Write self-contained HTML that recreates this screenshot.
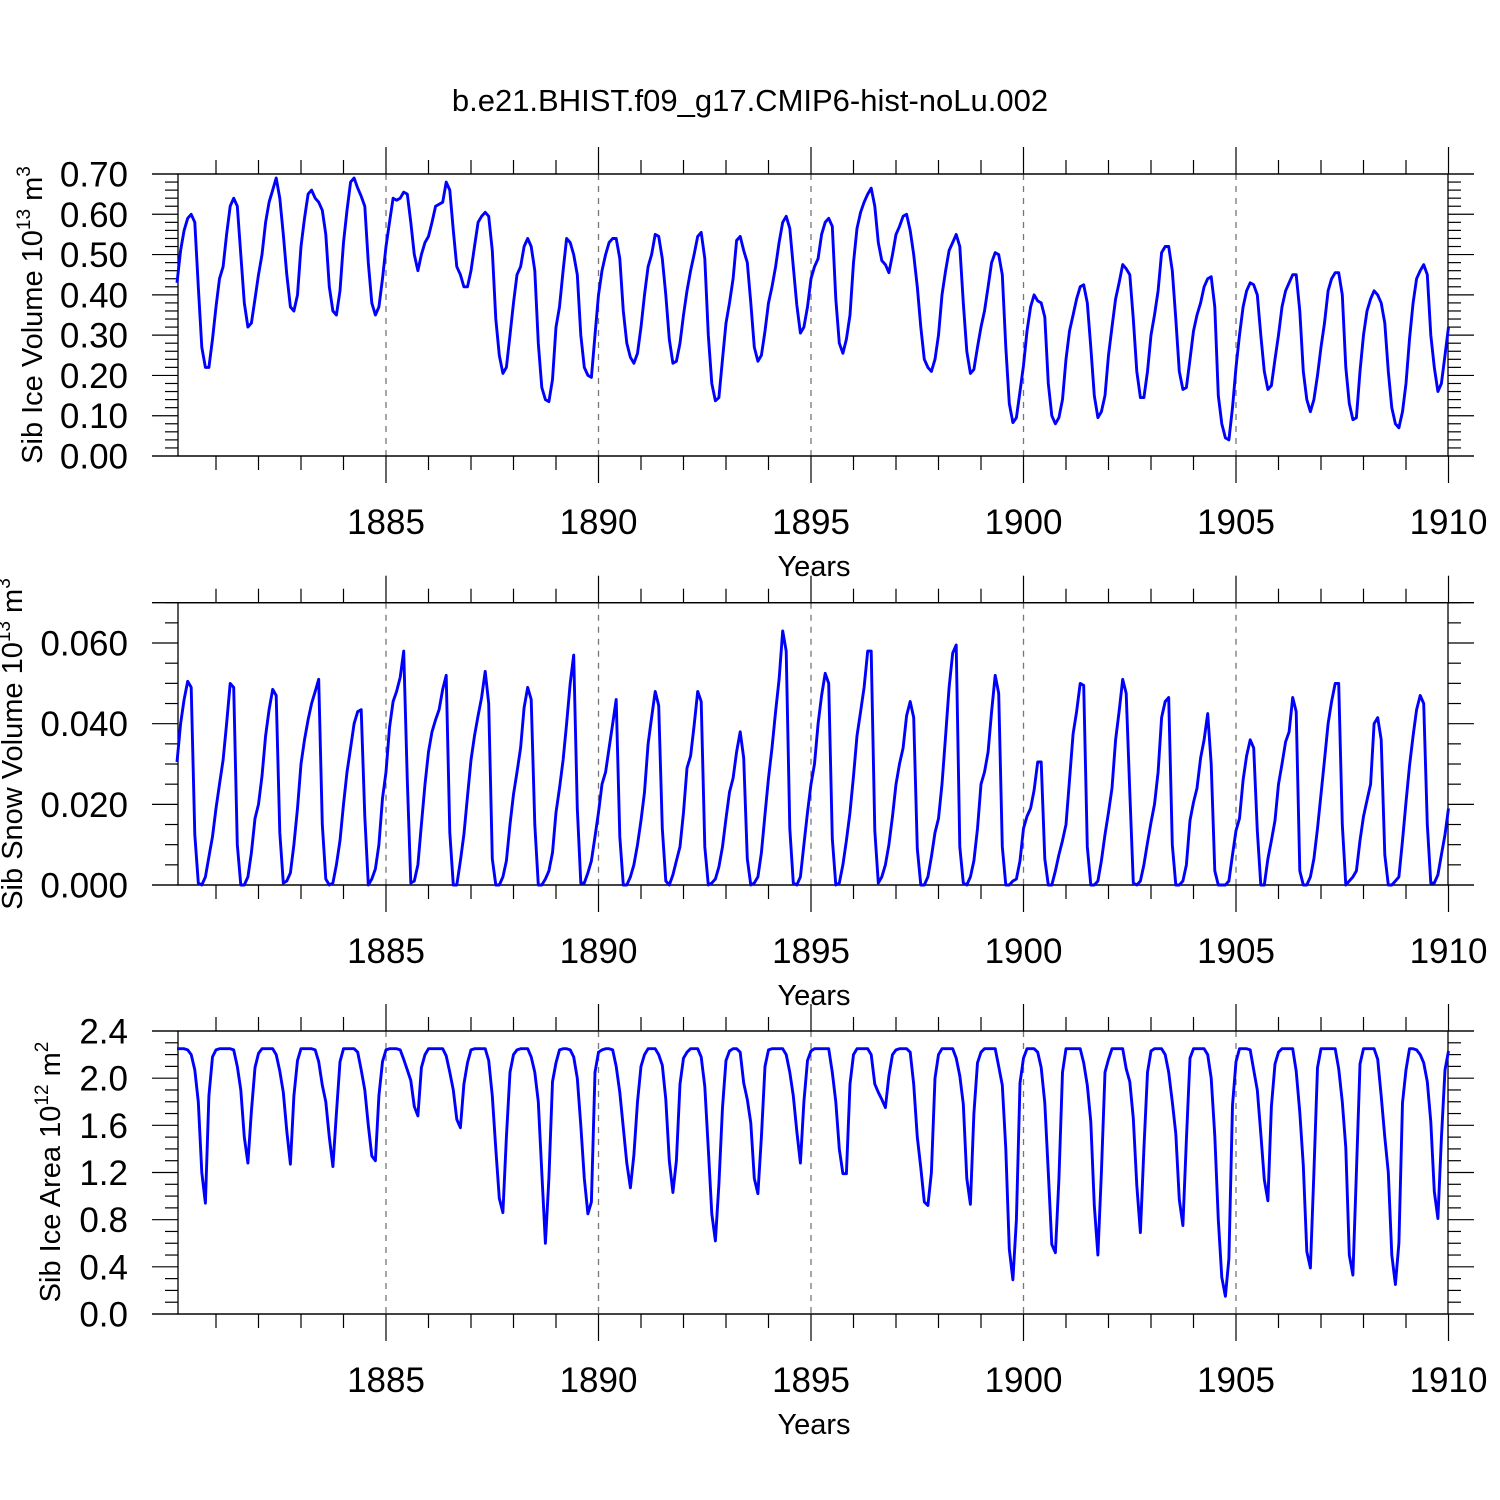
<!DOCTYPE html>
<html><head><meta charset="utf-8"><style>
html,body{margin:0;padding:0;background:#fff;}
svg{display:block;font-family:"Liberation Sans",Arial,sans-serif;}
</style></head><body>
<svg id="chart" width="1500" height="1500" viewBox="0 0 1500 1500" xmlns="http://www.w3.org/2000/svg">
<rect width="1500" height="1500" fill="#fff"/>
<text x="750" y="111" font-size="31" text-anchor="middle">b.e21.BHIST.f09_g17.CMIP6-hist-noLu.002</text>
<g id="g1"></g>
<g id="g2"></g>
<g id="g3"></g>
</svg>
<script>
const startYear = 1880;
const xTickYears = [1885, 1890, 1895, 1900, 1905, 1910];
const iceVolTicks = ["0.00","0.10","0.20","0.30","0.40","0.50","0.60","0.70"];
const snowVolTicks = ["0.000","0.020","0.040","0.060"];
const iceAreaTicks = ["0.0","0.4","0.8","1.2","1.6","2.0","2.4"];

const iceVolume = [
.43,.51,.56,.59,.60,.58,.42,.27,.22,.22,.29,.37,
.44,.47,.55,.62,.64,.62,.50,.38,.32,.33,.39,.45,
.50,.58,.63,.66,.69,.64,.55,.45,.37,.36,.40,.52,
.59,.65,.66,.64,.63,.61,.55,.42,.36,.35,.41,.53,
.61,.68,.69,.665,.645,.62,.48,.38,.35,.37,.44,.52,
.58,.64,.635,.64,.655,.65,.58,.50,.46,.50,.53,.545,
.58,.62,.625,.63,.68,.66,.56,.47,.45,.42,.42,.46,
.52,.58,.595,.605,.595,.51,.34,.25,.205,.22,.30,.38,
.45,.47,.52,.54,.52,.46,.28,.17,.14,.135,.19,.32,
.37,.46,.54,.53,.50,.45,.30,.22,.20,.195,.30,.40,
.46,.50,.53,.54,.54,.49,.36,.28,.245,.23,.255,.32,
.40,.47,.50,.55,.545,.49,.40,.29,.23,.235,.28,.35,
.41,.46,.50,.545,.555,.49,.30,.18,.137,.145,.24,.33,
.38,.44,.535,.545,.51,.48,.38,.27,.235,.25,.31,.38,
.42,.47,.53,.58,.595,.565,.47,.375,.305,.32,.37,.44,
.47,.49,.55,.58,.59,.57,.39,.28,.255,.29,.35,.48,
.565,.605,.63,.65,.665,.62,.53,.485,.475,.455,.50,.55,
.57,.595,.60,.56,.50,.42,.32,.24,.22,.21,.24,.30,
.40,.46,.51,.53,.55,.52,.38,.26,.205,.215,.27,.32,
.36,.42,.48,.505,.50,.45,.27,.13,.083,.095,.16,.225,
.31,.37,.40,.385,.38,.345,.18,.10,.08,.095,.14,.24,
.31,.35,.39,.42,.425,.38,.27,.15,.095,.11,.15,.25,
.32,.39,.43,.475,.465,.45,.34,.21,.145,.145,.21,.30,
.35,.41,.505,.52,.52,.46,.34,.21,.165,.17,.24,.31,
.35,.38,.42,.44,.445,.37,.15,.08,.045,.04,.12,.22,
.30,.37,.41,.43,.425,.40,.30,.21,.165,.175,.24,.30,
.37,.41,.43,.45,.45,.36,.21,.14,.11,.14,.20,.27,
.33,.41,.44,.455,.455,.40,.22,.13,.09,.095,.21,.30,
.36,.39,.41,.40,.38,.33,.21,.12,.08,.07,.11,.18,
.29,.38,.44,.46,.475,.45,.30,.22,.16,.18,.25,.32
];

const snowVolume = [
.0305,.040,.046,.0505,.049,.0125,.0005,0,.002,.007,.012,.019,
.025,.031,.040,.050,.049,.010,0,0,.002,.008,.0165,.020,
.027,.037,.0435,.0485,.047,.013,.0005,.001,.003,.010,.019,.030,
.036,.041,.045,.048,.051,.015,.0015,0,.0005,.005,.011,.020,
.028,.034,.040,.043,.0435,.017,0,.0015,.004,.010,.0215,.028,
.039,.0455,.048,.0515,.058,.026,.0005,.001,.005,.015,.025,.033,
.038,.041,.0435,.0485,.052,.013,0,0,.006,.0125,.022,.031,
.037,.042,.0465,.053,.045,.0065,0,0,.002,.006,.015,.0225,
.028,.034,.044,.049,.046,.015,0,0,.0015,.0035,.008,.018,
.024,.031,.040,.050,.057,.019,.0005,.0005,.003,.006,.012,.018,
.025,.028,.034,.040,.046,.012,0,0,.002,.005,.010,.016,
.023,.035,.0415,.048,.0445,.014,.001,0,.0025,.006,.0095,.018,
.029,.032,.0395,.048,.0455,.0095,0,.0005,.0015,.0045,.0095,.0165,
.023,.0265,.033,.038,.0315,.0065,0,.0005,.002,.008,.0175,.0265,
.034,.043,.051,.063,.058,.014,.0005,0,.002,.010,.018,.025,
.030,.040,.047,.0525,.050,.0115,0,.0005,.005,.011,.018,.027,
.037,.043,.049,.058,.058,.0135,.0005,.002,.005,.010,.017,.025,
.030,.034,.042,.0455,.0415,.009,0,0,.002,.007,.013,.0165,
.025,.037,.049,.0575,.0595,.0095,.0005,0,.002,.006,.014,.025,
.028,.033,.043,.052,.0475,.0095,0,0,.001,.0015,.006,.014,
.017,.019,.0235,.0305,.0305,.0065,0,0,.0035,.0075,.011,.015,
.026,.0375,.043,.050,.0495,.0095,0,0,.001,.006,.0125,.018,
.024,.036,.043,.051,.0475,.023,.0005,0,.001,.005,.0105,.0155,
.020,.028,.0415,.0455,.0465,.010,0,0,.001,.005,.016,.0205,
.024,.0315,.036,.0425,.030,.0035,0,0,0,.001,.0075,.0135,
.0165,.026,.032,.036,.034,.0135,0,0,.0065,.011,.016,.025,
.030,.0355,.038,.0465,.043,.0035,0,0,.002,.0065,.014,.0225,
.031,.040,.0455,.050,.050,.015,0,.001,.002,.0035,.011,.017,
.021,.025,.040,.0415,.036,.0075,0,0,.001,.002,.011,.0205,
.0295,.037,.0435,.047,.045,.015,.0005,.0005,.0025,.0075,.0125,.019
];

const iceArea = [
2.25,2.25,2.25,2.24,2.20,2.07,1.80,1.20,0.94,1.85,2.18,2.24,
2.25,2.25,2.25,2.25,2.24,2.10,1.90,1.50,1.28,1.72,2.09,2.21,
2.25,2.25,2.25,2.25,2.20,2.06,1.88,1.55,1.27,1.85,2.15,2.25,
2.25,2.25,2.25,2.24,2.14,1.94,1.80,1.50,1.25,1.70,2.14,2.25,
2.25,2.25,2.25,2.22,2.07,1.90,1.60,1.34,1.30,1.85,2.14,2.24,
2.25,2.25,2.25,2.24,2.16,2.07,1.98,1.76,1.68,2.09,2.20,2.25,
2.25,2.25,2.25,2.25,2.19,2.05,1.90,1.65,1.58,1.95,2.13,2.24,
2.25,2.25,2.25,2.25,2.15,1.85,1.40,0.98,0.86,1.50,2.05,2.20,
2.24,2.25,2.25,2.25,2.18,2.05,1.80,1.20,0.60,1.15,1.97,2.13,
2.24,2.25,2.25,2.24,2.18,2.00,1.60,1.15,0.85,0.95,2.05,2.22,
2.24,2.25,2.25,2.24,2.10,1.88,1.58,1.28,1.07,1.35,1.80,2.10,
2.20,2.25,2.25,2.25,2.20,2.11,1.82,1.30,1.03,1.30,1.95,2.17,
2.22,2.25,2.25,2.25,2.18,1.93,1.40,0.85,0.62,1.10,1.75,2.15,
2.23,2.25,2.25,2.22,1.96,1.82,1.62,1.15,1.02,1.50,2.10,2.24,
2.25,2.25,2.25,2.25,2.20,2.05,1.85,1.55,1.28,1.80,2.15,2.23,
2.25,2.25,2.25,2.25,2.25,2.05,1.80,1.40,1.19,1.19,1.95,2.20,
2.25,2.25,2.25,2.25,2.20,1.95,1.88,1.82,1.75,2.02,2.20,2.24,
2.25,2.25,2.25,2.22,1.95,1.50,1.24,0.95,0.92,1.20,2.00,2.20,
2.25,2.25,2.25,2.25,2.17,2.02,1.78,1.15,0.93,1.70,2.13,2.22,
2.25,2.25,2.25,2.25,2.10,1.94,1.40,0.55,0.29,0.80,1.96,2.17,
2.25,2.25,2.25,2.22,2.09,1.79,1.20,0.59,0.52,1.14,2.05,2.25,
2.25,2.25,2.25,2.25,2.13,1.94,1.63,0.92,0.50,1.20,2.05,2.16,
2.25,2.25,2.25,2.25,2.08,1.97,1.66,1.09,0.69,1.40,2.05,2.23,
2.25,2.25,2.25,2.20,2.05,1.80,1.53,0.97,0.75,1.48,2.17,2.25,
2.25,2.25,2.25,2.20,2.00,1.51,0.80,0.31,0.15,0.47,1.77,2.14,
2.25,2.25,2.25,2.24,2.07,1.90,1.53,1.14,0.96,1.76,2.12,2.22,
2.25,2.25,2.25,2.25,2.06,1.71,1.26,0.53,0.39,1.20,2.09,2.25,
2.25,2.25,2.25,2.25,2.08,1.80,1.41,0.50,0.33,1.20,2.12,2.25,
2.25,2.25,2.25,2.16,1.85,1.50,1.20,0.50,0.25,0.60,1.79,2.07,
2.25,2.25,2.24,2.20,2.13,1.97,1.63,1.04,0.81,1.49,2.07,2.23
];

const NS = "http://www.w3.org/2000/svg";
const X0 = 173.5, PXY = 42.5, XL = 178, XR = 1448;
function xOf(t){ return X0 + (t - startYear) * PXY; }
function mk(parent, tag, attrs){
  const e = document.createElementNS(NS, tag);
  for (const k in attrs) e.setAttribute(k, attrs[k]);
  parent.appendChild(e);
  return e;
}

function drawPanel(gid, cfg){
  const g = document.getElementById(gid);
  const yOf = v => cfg.yBot - (v - cfg.vmin) / (cfg.vmax - cfg.vmin) * (cfg.yBot - cfg.yTop);
  xTickYears.slice(0, 5).forEach(yr => {
    const l = mk(g, 'line', {x1: xOf(yr), x2: xOf(yr), y1: cfg.yTop, y2: cfg.yBot, stroke: '#777', 'stroke-width': 1.3, 'stroke-dasharray': '6,6'});
    
    
  });
  const fr = mk(g, 'rect', {x: XL, y: cfg.yTop, width: XR - XL, height: cfg.yBot - cfg.yTop, fill: 'none', stroke: '#000', 'stroke-width': 1.3});
  
  
  mk(g, 'line', {x1: 152, x2: 1474, y1: cfg.yTop, y2: cfg.yTop, stroke: '#000', 'stroke-width': 1.3});
  mk(g, 'line', {x1: 152, x2: 1474, y1: cfg.yBot, y2: cfg.yBot, stroke: '#000', 'stroke-width': 1.3});
  for (let yr = 1881; yr <= 1910; yr++) {
    const x = xOf(yr);
    const major = (yr % 5 === 0);
    const L = major ? 27 : 14;
    mk(g, 'line', {x1: x, x2: x, y1: cfg.yBot, y2: cfg.yBot + L, stroke: '#000', 'stroke-width': 1.2});
    mk(g, 'line', {x1: x, x2: x, y1: cfg.yTop, y2: cfg.yTop - L, stroke: '#000', 'stroke-width': 1.2});
  }
  xTickYears.forEach(yr => {
    const t = mk(g, 'text', {x: xOf(yr), y: cfg.yBot + 78, 'font-size': 35, 'text-anchor': 'middle'});
    t.textContent = yr;
    
    
  });
  const xt = mk(g, 'text', {x: 814, y: cfg.yBot + 120, 'font-size': 29, 'text-anchor': 'middle'});
  xt.textContent = 'Years';
  
  
  const nMinor = Math.round((cfg.vmax - cfg.vmin) / cfg.minor);
  for (let i = 0; i <= nMinor; i++) {
    const v = cfg.vmin + i * cfg.minor;
    const y = yOf(v);
    const isMajor = Math.abs(v / cfg.major - Math.round(v / cfg.major)) < 1e-6;
    const L = isMajor ? 26 : 13;
    mk(g, 'line', {x1: XL - L, x2: XL, y1: y, y2: y, stroke: '#000', 'stroke-width': 1.2});
    mk(g, 'line', {x1: XR, x2: XR + L, y1: y, y2: y, stroke: '#000', 'stroke-width': 1.2});
  }
  cfg.labels.forEach(s => {
    const v = parseFloat(s);
    const t = mk(g, 'text', {x: 128, y: yOf(v) + 12.5, 'font-size': 35, 'text-anchor': 'end'});
    t.textContent = s;
    
    
  });
  const yt = mk(g, 'text', {x: 0, y: 0, 'font-size': 29, 'text-anchor': 'middle', transform: 'translate(' + cfg.titleX + ',' + cfg.titleY + ') rotate(-90)'});
  
  
  yt.appendChild(document.createTextNode(cfg.title + ' 10'));
  const sup = mk(yt, 'tspan', {dy: -12, 'font-size': 19});
  sup.textContent = cfg.exp;
  const sp = mk(yt, 'tspan', {dy: 12});
  sp.textContent = ' m';
  const sup2 = mk(yt, 'tspan', {dy: -12, 'font-size': 19});
  sup2.textContent = cfg.unitExp;
  const pts = cfg.data.map((v, i) => xOf(startYear + (i + 1) / 12).toFixed(1) + ',' + yOf(v).toFixed(1)).join(' ');
  const pl = mk(g, 'polyline', {points: pts, fill: 'none', stroke: '#0000ff', 'stroke-width': 2.9, 'stroke-linejoin': 'round'});
  
  
}

drawPanel('g1', {yTop: 174, yBot: 456, vmin: 0, vmax: 0.70, minor: 0.02, major: 0.1, labels: iceVolTicks,
  title: 'Sib Ice Volume', exp: '13', unitExp: '3', titleX: 42, titleY: 315, data: iceVolume, seriesName: 'ice-volume-line'});
drawPanel('g2', {yTop: 602.7, yBot: 885, vmin: 0, vmax: 0.070, minor: 0.005, major: 0.02, labels: snowVolTicks,
  title: 'Sib Snow Volume', exp: '13', unitExp: '3', titleX: 22, titleY: 744, data: snowVolume, seriesName: 'snow-volume-line'});
drawPanel('g3', {yTop: 1031, yBot: 1314, vmin: 0, vmax: 2.4, minor: 0.1, major: 0.4, labels: iceAreaTicks,
  title: 'Sib Ice Area', exp: '12', unitExp: '2', titleX: 60, titleY: 1172, data: iceArea, seriesName: 'ice-area-line'});
</script>
</body></html>
